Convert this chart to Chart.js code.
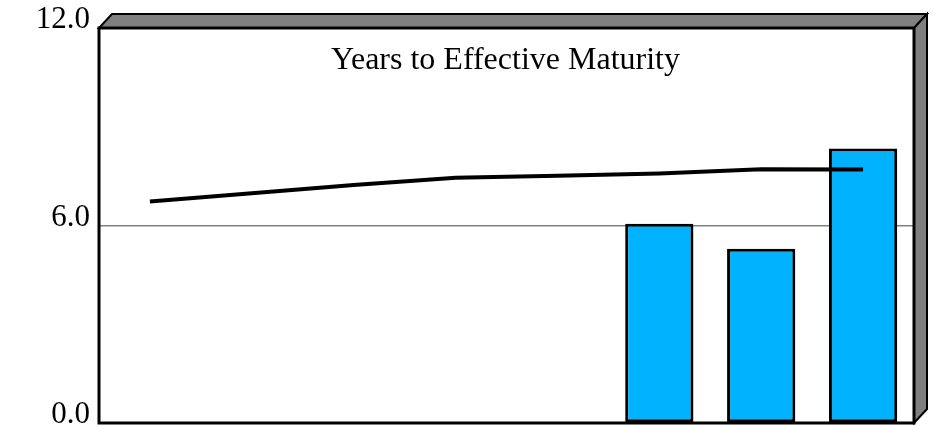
<!DOCTYPE html>
<html>
<head>
<meta charset="utf-8">
<script src="https://cdn.jsdelivr.net/npm/chart.js@4.4.1/dist/chart.umd.min.js"></script>
<style>
  html, body { margin: 0; padding: 0; background: #fff; }
  #wrap { width: 935px; height: 425px; }
</style>
</head>
<body>
<div id="wrap"><canvas id="chart" width="935" height="425"></canvas></div>
<script>
// ── Data ──────────────────────────────────────────────────────
const categories = ['1', '2', '3', '4', '5', '6', '7', '8'];
const barValues  = [null, null, null, null, null, 6.05, 5.29, 8.34];
const lineValues = [6.73, 6.98, 7.23, 7.45, 7.51, 7.58, 7.71, 7.70];
const yTicks     = [0, 6, 12];
const chartTitle = 'Years to Effective Maturity';

const serif = '"Liberation Serif", "Times New Roman", serif';
const barColor = '#00B2FF';
const faceGray = '#808080';

// ── 3D frame + title drawn around the plot area ───────────────
const framePlugin = {
  id: 'frame3d',
  beforeDraw(chart) {
    const { ctx, chartArea: a } = chart;
    const dx = 13, dy = 14;
    ctx.save();
    ctx.fillStyle = faceGray;
    ctx.strokeStyle = '#000';
    ctx.lineWidth = 2;
    // top face
    ctx.beginPath();
    ctx.moveTo(a.left, a.top);
    ctx.lineTo(a.left + dx, a.top - dy);
    ctx.lineTo(a.right + dx, a.top - dy);
    ctx.lineTo(a.right, a.top);
    ctx.closePath();
    ctx.fill(); ctx.stroke();
    // right face
    ctx.beginPath();
    ctx.moveTo(a.right, a.top);
    ctx.lineTo(a.right + dx, a.top - dy);
    ctx.lineTo(a.right + dx, a.bottom - dy);
    ctx.lineTo(a.right, a.bottom);
    ctx.closePath();
    ctx.fill(); ctx.stroke();
    ctx.restore();
  },
  afterDatasetsDraw(chart) {
    const { ctx, chartArea: a } = chart;
    ctx.save();
    ctx.strokeStyle = '#000';
    ctx.lineWidth = 3;
    ctx.strokeRect(a.left, a.top, a.right - a.left, a.bottom - a.top);
    ctx.fillStyle = '#000';
    ctx.font = '32px ' + serif;
    ctx.textAlign = 'center';
    ctx.textBaseline = 'alphabetic';
    ctx.fillText(chartTitle, (a.left + a.right) / 2 - 1, 69);
    ctx.restore();
  },
};

new Chart(document.getElementById('chart'), {
  data: {
    labels: categories,
    datasets: [
      {
        type: 'line',
        data: lineValues,
        borderColor: '#000',
        borderWidth: 4,
        borderCapStyle: 'butt',
        tension: 0,
        pointRadius: 0,
        fill: false,
        order: 0,
      },
      {
        type: 'bar',
        data: barValues,
        backgroundColor: barColor,
        borderColor: '#000',
        borderWidth: 3,
        borderSkipped: false,
        barPercentage: 0.67,
        categoryPercentage: 1,
        order: 1,
      },
    ],
  },
  options: {
    responsive: false,
    animation: false,
    devicePixelRatio: 1,
    layout: { padding: { top: 28, right: 21, bottom: 2, left: 0 } },
    plugins: {
      legend: { display: false },
      tooltip: { enabled: false },
      title: { display: false },
    },
    scales: {
      x: {
        display: false,
        offset: true,
        grid: { display: false },
      },
      y: {
        min: 0,
        max: 12,
        afterBuildTicks: (scale) => { scale.ticks = yTicks.map(v => ({ value: v })); },
        afterFit: (scale) => {
          scale.width = 99;
          // labels sit outside the frame, don't let them shrink the plot
          scale.paddingTop = 0;
          scale.paddingBottom = 0;
        },
        border: { display: false },
        grid: {
          drawTicks: false,
          color: (c) => (c.tick && c.tick.value === 6 ? faceGray : 'transparent'),
          lineWidth: 1.5,
        },
        ticks: {
          color: '#000',
          padding: 9,
          labelOffset: -8,
          font: { family: serif, size: 31 },
          callback: (v) => Number(v).toFixed(1),
        },
      },
    },
  },
  plugins: [framePlugin],
});
</script>
</body>
</html>
